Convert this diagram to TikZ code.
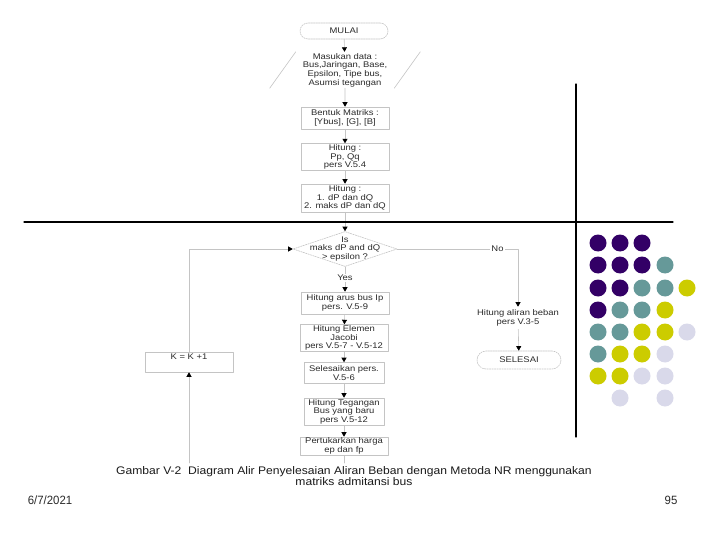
\documentclass[tikz,border=0pt]{standalone}
\usepackage{fontspec}
\setmainfont{Liberation Sans}
\newfontfamily\flowfont[FakeStretch=1.15]{Liberation Sans}
\newfontfamily\capfont[FakeStretch=1.1]{Liberation Sans}
\newfontfamily\footfont[FakeStretch=0.95]{Liberation Sans}
\usetikzlibrary{arrows.meta,shapes.geometric,positioning}
\definecolor{edgegrey}{HTML}{C4C4C4}
\definecolor{inkgrey}{HTML}{2A2A2A}
\definecolor{capink}{HTML}{1A1A1A}
\definecolor{dotpurple}{HTML}{330066}
\definecolor{dotteal}{HTML}{669999}
\definecolor{dotyellow}{HTML}{CCCC00}
\definecolor{dotlilac}{HTML}{D9D9EA}
\tikzset{
  every picture/.style={line join=round, line cap=round, >=Stealth},
  flow/.style={font=\flowfont\fontsize{8.2}{8.6}\selectfont, text=inkgrey, align=center},
  procbox/.style={flow, draw=edgegrey, line width=0.6pt, minimum width=88pt, inner xsep=2pt, inner ysep=1pt},
  termbox/.style={flow, draw=edgegrey, line width=0.6pt, dash pattern=on 1.5pt off 1pt, rounded corners=8pt, minimum width=88pt, minimum height=16pt},
  decision/.style={diamond, aspect=3, draw=edgegrey, line width=0.6pt, dash pattern=on 1.5pt off 1pt, minimum width=104pt, minimum height=35pt, inner sep=0pt},
  link/.style={draw=edgegrey, line width=0.6pt},
  linkarrow/.style={-{Triangle[width=5pt,length=4.5pt,color=black]}},
}

\begin{document}
\begin{tikzpicture}[x=1pt,y=-1pt]
\fill[white](0,0)rectangle(720,540);
\useasboundingbox(0,0)rectangle(720,540);
% flowchart
\node[termbox](mulai)at(344,31){MULAI};
\node[flow,trapezium,trapezium left angle=57,trapezium right angle=123,trapezium stretches=true,
  minimum width=150pt,minimum height=36pt,inner sep=0.5pt](data)at(345,70)
  {Masukan data :\\Bus,Jaringan, Base,\\Epsilon, Tipe bus,\\Asumsi tegangan};
\draw[link](data.top left corner)--(data.bottom left corner);
\draw[link](data.top right corner)--(data.bottom right corner);
\node[procbox,minimum height=22pt](matriks)at(345,118){Bentuk Matriks :\\{}[Ybus], [G], [B]};
\node[procbox,minimum height=26pt](pq)at(345,157){Hitung :\\Pp, Qq\\pers V.5.4};
\node[procbox,minimum height=28pt](dpdq)at(345,198){Hitung :\\1. dP dan dQ\\2. maks dP dan dQ};
\node[decision](cek)at(345,249){};
\node[flow](cektext)at(cek){Is\\maks dP and dQ\\> epsilon ?};
\node[procbox,minimum height=22pt](arus)at(345,303){Hitung arus bus Ip\\pers. V.5-9};
\node[procbox,minimum height=26pt](jacobi)at(344,338){Hitung Elemen\\Jacobi\\pers V.5-7 - V.5-12};
\node[procbox,minimum width=80pt,minimum height=21pt](selesaikan)at(344,373){Selesaikan pers.\\V.5-6};
\node[procbox,minimum width=80pt,minimum height=27pt](tegangan)at(344,411.5){Hitung Tegangan\\Bus yang baru\\pers V.5-12};
\node[procbox,minimum height=18pt,inner ysep=0.5pt](tukar)at(344,446){Pertukarkan harga\\ep dan fp};
\node[procbox,text height=6pt,text depth=11pt,inner ysep=1.5pt](kplus)at(189,362){K = K +1};
\node[flow,inner sep=3pt](aliran)at(518,318){Hitung aliran beban\\pers V.3-5};
\node[termbox,minimum width=84pt,minimum height=18pt,rounded corners=9pt](selesai)at(519,360){SELESAI};
\coordinate(tukarbawah)at(344,463);
\coordinate(kbawah)at(189,463);
% connectors
\draw[link,linkarrow](mulai)--(data);
\draw[link,linkarrow](data)--(matriks);
\draw[link,linkarrow](matriks)--(pq);
\draw[link,linkarrow](pq)--(dpdq);
\draw[link,linkarrow](dpdq)--(cek);
\draw[link,linkarrow](cek)--node[flow,fill=white,inner sep=1pt,pos=0.45](yes){Yes}(arus);
\draw[link,linkarrow](arus)--(jacobi);
\draw[link,linkarrow](jacobi)--(selesaikan);
\draw[link,linkarrow](selesaikan)--(tegangan);
\draw[link,linkarrow](tegangan)--(tukar);
\draw[link](tukar)--(tukarbawah);
\draw[link,linkarrow](kbawah)--(kplus);
\draw[link,linkarrow](kplus.north)|-(cek.west);
\draw[link,linkarrow](cek.east)--node[flow,fill=white,inner sep=1pt,pos=0.83](no){No}(cek.east-|aliran.north)--(aliran.north);
\draw[link,linkarrow](aliran)--(selesai);
% caption and footer
\node[font=\capfont\fontsize{11}{11}\selectfont,text=capink,align=center](judul)at(354,476)
  {Gambar V-2~ Diagram Alir Penyelesaian Aliran Beban dengan Metoda NR menggunakan\\matriks admitansi bus};
\node[font=\footfont\fontsize{12}{12}\selectfont,text=inkgrey](tanggal)at(50,500){6/7/2021};
\node[font=\footfont\fontsize{12}{12}\selectfont,text=inkgrey](halaman)at(671,500){95};
% slide lines
\draw[line width=1.2pt](24,222)--(673,222);
\draw[line width=1.2pt](576,84)--(576,437);
% dots
\fill[dotpurple](598,243)circle(8.5pt)(620,243)circle(8.5pt)(642,243)circle(8.5pt)
(598,265)circle(8.5pt)(620,265)circle(8.5pt)(642,265)circle(8.5pt)
(598,288)circle(8.5pt)(620,288)circle(8.5pt)
(598,310)circle(8.5pt);
\fill[dotteal](665,265)circle(8.5pt)
(642,288)circle(8.5pt)(665,288)circle(8.5pt)
(620,310)circle(8.5pt)(642,310)circle(8.5pt)
(598,332)circle(8.5pt)(620,332)circle(8.5pt)
(598,354)circle(8.5pt);
\fill[dotyellow](687,288)circle(8.5pt)
(665,310)circle(8.5pt)
(642,332)circle(8.5pt)(665,332)circle(8.5pt)
(620,354)circle(8.5pt)(642,354)circle(8.5pt)
(598,376)circle(8.5pt)(620,376)circle(8.5pt);
\fill[dotlilac](687,332)circle(8.5pt)
(665,354)circle(8.5pt)
(642,376)circle(8.5pt)(665,376)circle(8.5pt)
(620,398)circle(8.5pt)(665,398)circle(8.5pt);
\end{tikzpicture}
\end{document}
